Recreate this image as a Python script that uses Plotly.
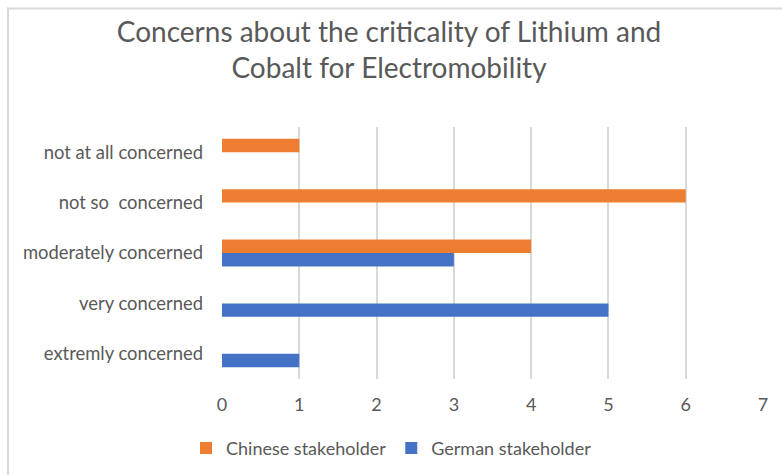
import plotly.graph_objects as go

# Survey responses, listed bottom-to-top as drawn on the category axis
categories = [
    "extremly concerned",
    "very concerned",
    "moderately concerned",
    "not so\u00a0 concerned",
    "not at all concerned",
]
chinese_counts = [0, 0, 4, 6, 1]
german_counts = [1, 5, 3, 0, 0]
x_ticks = [0, 1, 2, 3, 4, 5, 6, 7]

ORANGE = "#ED7D31"
BLUE = "#4472C4"
TEXT = "#595959"
GRID = "#D9D9D9"
FONT = "Lato"

fig = go.Figure()
# German first so that it sits below the Chinese bar inside each group
fig.add_trace(go.Bar(
    y=categories, x=german_counts, orientation="h",
    name="German stakeholder", marker=dict(color=BLUE, line=dict(width=0)),
    legendrank=2,
))
fig.add_trace(go.Bar(
    y=categories, x=chinese_counts, orientation="h",
    name="Chinese stakeholder", marker=dict(color=ORANGE, line=dict(width=0)),
    legendrank=1,
))

fig.update_layout(
    width=782, height=475,
    margin=dict(l=222, r=19, t=127, b=96, autoexpand=False),
    paper_bgcolor="white", plot_bgcolor="white",
    barmode="group", bargap=0.467, bargroupgap=0,
    font=dict(family=FONT, color=TEXT, size=16),
    title=dict(
        text="Concerns about the criticality of Lithium and<br>Cobalt for Electromobility",
        x=389 / 782, xref="container", xanchor="center",
        y=1 - 42 / 475, yref="container", yanchor="middle",
        font=dict(family=FONT, size=28, color=TEXT),
    ),
    xaxis=dict(
        range=[0, 7], tickvals=x_ticks, showgrid=True, gridcolor=GRID, gridwidth=1.5,
        zeroline=False, showline=False, ticks="", ticklabelstandoff=13,
        tickfont=dict(size=18, color=TEXT), fixedrange=True,
    ),
    yaxis=dict(
        type="category", categoryorder="array", categoryarray=categories,
        showgrid=False, zeroline=False, showline=False, ticks="",
        ticklabelstandoff=18, tickfont=dict(size=18.4, color=TEXT), fixedrange=True,
    ),
    legend=dict(
        orientation="h", x=-0.0665, xref="paper", xanchor="left",
        y=-0.275, yanchor="middle",
        font=dict(size=18, color=TEXT), itemwidth=30, traceorder="normal",
        bgcolor="rgba(0,0,0,0)",
    ),
    showlegend=True,
)

# Chart frame: left and top edges of the surrounding border
fig.add_shape(type="line", xref="paper", yref="paper",
              x0=(8 - 222) / 541, x1=(8 - 222) / 541,
              y0=(379 - 7.5) / 252, y1=(379 - 480) / 252,
              line=dict(color=GRID, width=2))
fig.add_shape(type="line", xref="paper", yref="paper",
              x0=(7 - 222) / 541, x1=(790 - 222) / 541,
              y0=(379 - 8.5) / 252, y1=(379 - 8.5) / 252,
              line=dict(color=GRID, width=2))

fig.write_html("out.html")
